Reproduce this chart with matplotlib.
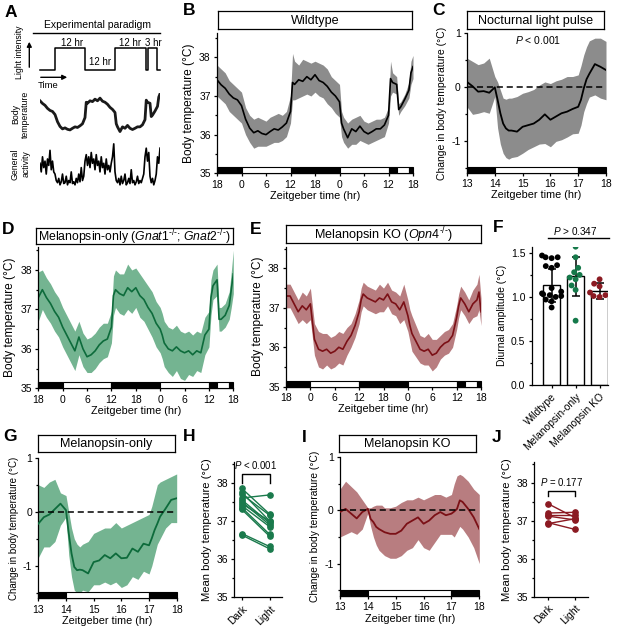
import numpy as np
import pandas as pd
import matplotlib
matplotlib.use("Agg")
import matplotlib.pyplot as plt
import matplotlib.transforms as mtransforms
from matplotlib.patches import Rectangle
from matplotlib.ticker import MultipleLocator
import seaborn as sns

plt.rcParams['font.family'] = ['Liberation Sans', 'DejaVu Sans']
plt.rcParams['mathtext.fontset'] = 'custom'
plt.rcParams['mathtext.rm'] = 'Liberation Sans'
plt.rcParams['mathtext.it'] = 'Liberation Sans:italic'
plt.rcParams['axes.unicode_minus'] = False
plt.rcParams['axes.linewidth'] = 0.9
for k in ['xtick.major.width', 'ytick.major.width', 'ytick.minor.width']:
    plt.rcParams[k] = 0.9
plt.rcParams['xtick.major.size'] = 2.5
plt.rcParams['ytick.major.size'] = 2.5
plt.rcParams['ytick.minor.size'] = 1.6
plt.rcParams['xtick.major.pad'] = 2
plt.rcParams['ytick.major.pad'] = 2
plt.rcParams['xtick.labelsize'] = 7.5
plt.rcParams['ytick.labelsize'] = 7.5

# ---- data: 48 h recordings (hours relative to ZT0 of day 1) ----
t_long = [-6, -5, -4, -3, -2, -1, 0, 1, 2, 3, 4, 5, 6, 7, 8, 9, 10, 11, 12, 12.5,
          13, 14, 15, 16, 17, 18, 19, 20, 21, 22, 23, 24, 24.5,
          25, 26, 27, 28, 29, 30, 31, 32, 33, 34, 35, 36, 36.5, 37, 38, 38.5, 39, 40, 41, 41.5, 42]
long_ticks = [-6, 0, 6, 12, 18, 24, 30, 36, 42]
long_labels = ['18', '0', '6', '12', '18', '0', '6', '12', '18']
ld_long = [(-6, 0, 1), (0, 12, 0), (12, 24, 1), (24, 36, 0), (36, 38, 1), (38, 41, 0), (41, 42, 1)]

# wildtype
b_mean = [37.42, 37.29, 37.2, 37.05, 36.95, 36.9, 36.75, 36.4, 36.17, 36.05, 36.1, 36.03, 36.0, 36.08, 36.15, 36.12, 36.2, 36.3, 36.6,
          37.35,
          37.3, 37.42, 37.38, 37.5, 37.42, 37.55, 37.4, 37.35, 37.25, 37.1, 37.0, 36.85,
          36.3,
          36.15, 35.92, 36.15, 36.08, 36.22, 36.08, 36.02, 36.08, 36.15, 36.15, 36.25, 36.5,
          37.45, 37.35, 37.3, 36.65, 36.72, 36.92, 37.15, 37.6, 37.76]
b_hi = [37.8, 37.7, 37.6, 37.4, 37.3, 37.2, 37.1, 36.7, 36.5, 36.4, 36.45, 36.4, 36.35, 36.45, 36.5, 36.55, 36.5, 36.6, 37.0,
        38.1,
        37.9, 37.8, 37.95, 37.9, 37.85, 37.9, 37.85, 37.8, 37.7, 37.5, 37.4, 37.3,
        36.6,
        36.45, 36.3, 36.4, 36.45, 36.5, 36.35, 36.3, 36.35, 36.4, 36.4, 36.45, 36.7,
        37.9, 37.6, 37.5, 36.8, 36.85, 37.05, 37.35, 37.9, 38.05]
b_lo = [37.0, 36.9, 36.8, 36.6, 36.5, 36.4, 36.3, 36.0, 35.8, 35.65, 35.7, 35.7, 35.7, 35.75, 35.8, 35.8, 35.85, 35.95, 36.3,
        36.9,
        36.9, 36.95, 37.0, 37.05, 37.0, 37.1, 37.0, 36.95, 36.8, 36.7, 36.55, 36.45,
        35.95,
        35.8, 35.65, 35.75, 35.75, 35.85, 35.8, 35.75, 35.8, 35.85, 35.9, 35.95, 36.3,
        37.0, 37.1, 37.05, 36.5, 36.6, 36.75, 36.95, 37.3, 37.45]

# melanopsin-only
d_mean = [37.3, 37.5, 37.3, 37.15, 36.95, 36.8, 36.55, 36.35, 36.15, 35.95, 36.3, 36.0, 35.8, 35.85, 35.95, 36.1, 36.2, 36.25, 36.55,
          37.35,
          37.5, 37.4, 37.35, 37.55, 37.45, 37.55, 37.35, 37.25, 37.05, 36.9, 36.65, 36.5,
          36.35,
          36.15, 36.0, 35.95, 36.05, 35.95, 35.9, 35.95, 35.85, 35.95, 35.9, 36.35, 36.5,
          37.3, 37.6, 37.75, 36.75, 36.75, 36.85, 37.1, 37.5, 37.9]
d_hi = [37.95, 38.0, 37.8, 37.65, 37.45, 37.3, 37.05, 36.85, 36.65, 36.45, 36.7, 36.4, 36.25, 36.3, 36.4, 36.55, 36.65, 36.65, 36.95,
        37.85,
        38.0, 37.9, 37.9, 38.15, 38.0, 38.05, 37.9, 37.75, 37.6, 37.45, 37.2, 37.05,
        36.9,
        36.7, 36.55, 36.5, 36.6, 36.45, 36.4, 36.45, 36.35, 36.45, 36.4, 36.8, 36.95,
        37.75, 38.0, 38.15, 37.05, 37.05, 37.15, 37.45, 37.95, 38.5]
d_lo = [36.7, 37.0, 36.8, 36.65, 36.45, 36.3, 36.05, 35.85, 35.65, 35.45, 35.85, 35.55, 35.4, 35.4, 35.5, 35.65, 35.75, 35.8, 36.15,
        36.85,
        37.05, 36.9, 36.85, 37.0, 36.9, 37.05, 36.8, 36.7, 36.5, 36.3, 36.05, 35.9,
        35.75,
        35.55, 35.4, 35.3, 35.45, 35.25, 35.2, 35.35, 35.3, 35.45, 35.4, 35.85, 36.05,
        36.85, 37.25, 37.35, 36.45, 36.45, 36.55, 36.75, 37.05, 37.4]

# melanopsin KO
e_mean = [37.3, 37.3, 37.1, 36.9, 37.05, 36.95, 37.1, 36.2, 35.95, 35.9, 35.95, 35.85, 35.9, 36.0, 35.95, 36.15, 36.3, 36.55, 36.9,
          37.2,
          37.35, 37.25, 37.2, 37.15, 37.25, 37.2, 37.35, 37.15, 37.1, 36.95, 37.15, 36.8,
          36.55,
          36.35, 36.15, 35.95, 35.9, 35.95, 35.8, 35.85, 36.0, 36.1, 36.15, 36.3, 36.75,
          37.05, 37.25, 37.1, 37.0, 36.9, 37.1, 37.2, 37.4, 36.9]
e_sem = [0.3, 0.3, 0.3, 0.3, 0.35, 0.35, 0.4, 0.4, 0.45, 0.45, 0.4, 0.4, 0.4, 0.4, 0.4, 0.35, 0.3, 0.3, 0.3,
         0.3,
         0.3, 0.3, 0.3, 0.3, 0.35, 0.3, 0.3, 0.3, 0.3, 0.35, 0.45, 0.4,
         0.4,
         0.45, 0.4, 0.35, 0.35, 0.4, 0.4, 0.35, 0.3, 0.3, 0.3, 0.3, 0.3,
         0.3, 0.3, 0.3, 0.3, 0.3, 0.35, 0.4, 0.45, 0.35]

# ---- data: nocturnal light pulse (ZT13-18) ----
t_short = [13.0, 13.2, 13.4, 13.6, 13.8, 14.0, 14.1, 14.2, 14.3, 14.4, 14.5, 14.6, 14.8, 15.0, 15.2, 15.4,
           15.6, 15.8, 16.0, 16.2, 16.4, 16.6, 16.8, 17.0, 17.1, 17.2, 17.3, 17.4, 17.6, 17.8, 18.0]
ld_short = [(13, 14, 1), (14, 17, 0), (17, 18, 1)]

c_mean = [0.1, 0.02, -0.08, -0.07, -0.1, 0.0, -0.23, -0.48, -0.67, -0.76, -0.8, -0.8, -0.82, -0.73, -0.7, -0.67,
          -0.6, -0.5, -0.6, -0.54, -0.48, -0.45, -0.4, -0.36, -0.23, -0.02, 0.15, 0.25, 0.43, 0.38, 0.32]
c_hi = [0.54, 0.48, 0.42, 0.45, 0.54, 0.2, 0.1, -0.05, -0.2, -0.22, -0.2, -0.2, -0.17, -0.11, -0.08, -0.04,
        0.04, 0.1, 0.07, 0.12, 0.15, 0.2, 0.2, 0.23, 0.4, 0.6, 0.75, 0.86, 0.91, 0.91, 0.85]
c_lo = [-0.36, -0.5, -0.48, -0.45, -0.48, -0.17, -0.75, -1.05, -1.22, -1.3, -1.33, -1.3, -1.28, -1.22, -1.15, -1.1,
        -1.05, -1.04, -1.1, -1.0, -0.97, -0.92, -0.86, -0.85, -0.7, -0.45, -0.3, -0.18, -0.14, -0.2, -0.23]

g_mean = [-0.22, -0.1, -0.05, 0.05, 0.15, 0.03, -0.4, -0.77, -1.02, -1.08, -1.07, -1.08, -1.14, -0.93, -0.9, -0.8,
          -0.86, -0.77, -0.86, -0.85, -0.68, -0.74, -0.59, -0.62, -0.49, -0.34, -0.22, -0.09, 0.06, 0.22, 0.25]
g_hi = [0.5, 0.45, 0.55, 0.6, 0.35, 0.3, 0.0, -0.3, -0.5, -0.6, -0.65, -0.6, -0.55, -0.4, -0.35, -0.3,
        -0.3, -0.2, -0.3, -0.25, -0.2, -0.15, -0.1, -0.05, 0.1, 0.3, 0.5, 0.55, 0.6, 0.65, 0.7]
g_lo = [-0.85, -0.65, -0.65, -0.55, -0.25, -0.1, -0.8, -1.2, -1.45, -1.5, -1.5, -1.45, -1.48, -1.35, -1.35, -1.3,
        -1.35, -1.3, -1.4, -1.35, -1.2, -1.25, -1.1, -1.15, -1.0, -0.8, -0.6, -0.5, -0.3, -0.2, -0.2]

i_mean = [-0.03, 0.03, -0.06, -0.15, -0.03, 0.03, -0.16, -0.22, -0.31, -0.35, -0.38, -0.41, -0.44, -0.44, -0.38, -0.25,
          -0.19, -0.13, -0.25, -0.19, -0.09, -0.03, -0.09, -0.06, -0.02, 0.03, 0.19, 0.16, 0.03, -0.13, -0.35]
i_hi = [0.4, 0.55, 0.45, 0.35, 0.2, 0.05, 0.05, 0.08, 0.1, 0.1, 0.1, 0.05, 0.05, 0.08, 0.15, 0.2,
        0.2, 0.25, 0.2, 0.25, 0.3, 0.3, 0.25, 0.3, 0.5, 0.65, 0.68, 0.65, 0.55, 0.4, 0.3]
i_lo = [-0.5, -0.45, -0.4, -0.45, -0.35, -0.05, -0.3, -0.5, -0.65, -0.75, -0.8, -0.85, -0.9, -0.9, -0.85, -0.75,
        -0.7, -0.55, -0.7, -0.75, -0.6, -0.45, -0.45, -0.45, -0.5, -0.4, -0.3, -0.35, -0.5, -0.7, -1.0]

# ---- data: diurnal amplitude ----
f_groups = ['Wildtype', 'Melanopsin-only', 'Melanopsin KO']
f_means = [1.13, 1.235, 1.065]
f_sds = [0.19, 0.22, 0.09]
f_wt = [1.47, 1.45, 1.45, 1.44, 1.36, 1.35, 1.33, 1.1, 1.06, 1.04, 1.03, 1.02, 1.01, 1.0, 0.97, 0.95, 0.88]
f_mel = [1.57, 1.45, 1.33, 1.28, 1.25, 1.22, 1.2, 1.13, 1.08, 0.73]
f_ko = [1.2, 1.15, 1.12, 1.05, 1.02, 1.01, 1.0]

# ---- data: mean temperature dark vs light ----
h_dark = [37.85, 37.75, 37.7, 37.6, 37.55, 37.5, 37.45, 37.4, 37.35, 37.3, 36.67, 36.63]
h_light = [37.18, 37.0, 37.15, 37.68, 36.95, 36.9, 37.0, 36.85, 36.65, 36.6, 36.33, 36.27]
j_dark = [37.45, 37.2, 37.15, 37.12, 36.95, 36.92]
j_light = [37.08, 37.22, 37.15, 37.02, 36.77, 37.05]
dl_labels = ['Dark', 'Light']

# ---- schematic (panel A) ----
light_t = [-6, 0, 0, 12, 12, 24, 24, 36.3, 36.3, 37.1, 37.1, 40.7, 40.7, 42]
light_v = [0, 0, 1, 1, 0, 0, 1, 1, 0, 0, 1, 1, 0, 0]
act = [0.55, 0.35, 0.7, 0.45, 0.6, 0.3, 0.65, 0.5, 0.85, 0.4, 0.6, 0.35,
       0.3, 0.15, 0.1, 0.2, 0.05, 0.12, 0.3, 0.08, 0.1, 0.25, 0.05, 0.15,
       0.1, 0.35, 0.08, 0.12, 0.05, 0.2, 0.1, 0.3, 0.12, 0.45, 0.15, 0.25,
       0.6, 0.75, 0.5, 0.7, 0.45, 0.8, 0.55, 0.65, 0.4, 0.75, 0.5, 0.6,
       0.35, 0.7, 0.45, 0.55, 0.3, 0.65, 0.4, 0.5, 0.35, 0.55, 0.7, 1.0,
       0.35, 0.15, 0.1, 0.2, 0.05, 0.25, 0.08, 0.15, 0.3, 0.05, 0.1, 0.2,
       0.08, 0.4, 0.1, 0.15, 0.05, 0.12, 0.25, 0.08, 0.15, 0.1, 0.2, 0.3,
       0.7, 0.9, 0.6, 0.8,
       0.25, 0.1, 0.2, 0.05, 0.15, 0.3,
       0.7, 0.55, 0.9]
act_t = np.arange(-6, 42.5, 0.5)

GREEN, GREEN_BAND = '#0d6b3b', '#74b491'
RED, RED_BAND = '#7b1016', '#b87d80'
GRAY_BAND = '#8c8c8c'

W, H = 617, 633
fig = plt.figure(figsize=(W / 100, H / 100), dpi=100)


def px_axes(l, t, r, b):
    return fig.add_axes([l / W, 1 - b / H, (r - l) / W, (b - t) / H])


def clean(ax):
    ax.spines['top'].set_visible(False)
    ax.spines['right'].set_visible(False)


def ld_bar(ax, periods, frac):
    trans = mtransforms.blended_transform_factory(ax.transData, ax.transAxes)
    for s, e, dark in periods:
        ax.add_patch(Rectangle((s, 0), e - s, frac, transform=trans,
                               facecolor='black' if dark else 'white',
                               edgecolor='black', lw=0.8, zorder=4, clip_on=False))


def title_box(l, t, r, b, text, size=9.1):
    ax = px_axes(l, t, r, b)
    ax.set_xticks([])
    ax.set_yticks([])
    ax.text(0.5, 0.45, text, ha='center', va='center', fontsize=size, transform=ax.transAxes)


def long_panel(ax, mean, lo, hi, line_c, band_c, ytop):
    ax.fill_between(t_long, lo, hi, color=band_c, lw=0)
    ax.plot(t_long, mean, color=line_c, lw=1.2)
    ax.set_xlim(-6, 42)
    ax.set_ylim(35, ytop)
    ax.set_xticks(long_ticks)
    ax.set_xticklabels(long_labels)
    ax.set_yticks([35, 36, 37, 38])
    ax.yaxis.set_minor_locator(MultipleLocator(0.5))
    ld_bar(ax, ld_long, 0.043)
    clean(ax)
    ax.set_xlabel('Zeitgeber time (hr)', fontsize=7.8, labelpad=1)
    ax.set_ylabel('Body temperature (°C)', fontsize=8.6, labelpad=3)


def short_panel(ax, mean, lo, hi, line_c, band_c, ybot, lab_size):
    ax.fill_between(t_short, lo, hi, color=band_c, lw=0)
    ax.plot(t_short, mean, color=line_c, lw=1.3, zorder=3)
    ax.axhline(0, color='black', lw=1.1, ls=(0, (4, 2.5)), zorder=3)
    ax.set_xlim(13, 18)
    ax.set_ylim(ybot, 1)
    ax.set_xticks([13, 14, 15, 16, 17, 18])
    ax.set_yticks([-1, 0, 1])
    ax.yaxis.set_minor_locator(MultipleLocator(0.5))
    ld_bar(ax, ld_short, 0.043)
    clean(ax)
    ax.set_xlabel('Zeitgeber time (hr)', fontsize=7.8, labelpad=1)
    ax.set_ylabel('Change in body temperature (°C)', fontsize=lab_size, labelpad=3)


def pair_panel(ax, dark, light, color, ptxt, ptxt_y, br_top, br_end):
    for a, b in zip(dark, light):
        ax.plot([0, 1], [a, b], color=color, lw=1.0, marker='o', ms=3.8, mec=color, mfc=color)
    ax.set_ylim(35, 38.55)
    ax.set_yticks([35, 36, 37, 38])
    ax.yaxis.set_minor_locator(MultipleLocator(0.5))
    ax.set_xticks([0, 1])
    ax.set_xticklabels(dl_labels, rotation=45, ha='right', rotation_mode='anchor')
    ax.plot([0, 0, 1, 1], [br_end, br_top, br_top, br_end], color='black', lw=1.0, clip_on=False)
    ax.text(0.5, ptxt_y, ptxt, ha='center', va='bottom', fontsize=6.9, clip_on=False)
    clean(ax)
    ax.set_ylabel('Mean body temperature (°C)', fontsize=8.1, labelpad=3)


# ---- panel A ----
ax_l = px_axes(40, 48, 160, 72)
ax_l.plot(light_t, light_v, color='black', lw=1.1, clip_on=False)
ax_l.set_xlim(-6, 42)
ax_l.set_ylim(-0.1, 1.0)
ax_l.axis('off')

ax_t = px_axes(40, 93, 160, 133)
ax_t.plot(t_long, b_mean, color='#1a1a1a', lw=2.0)
ax_t.set_xlim(-6, 42)
ax_t.set_ylim(35.85, 37.8)
ax_t.axis('off')

ax_act = px_axes(40, 143, 160, 187)
ax_act.plot(act_t, act, color='black', lw=1.2)
ax_act.set_xlim(-6, 42)
ax_act.set_ylim(0, 1.02)
ax_act.axis('off')

# ---- panel B ----
axB = px_axes(217, 33, 413, 173.3)
long_panel(axB, b_mean, b_lo, b_hi, 'black', GRAY_BAND, 38.63)
title_box(218, 11, 412, 29, 'Wildtype')

# ---- panel C ----
axC = px_axes(467, 33.3, 606, 172.7)
short_panel(axC, c_mean, c_lo, c_hi, 'black', GRAY_BAND, -1.58, 7.5)
axC.text(15.55, 0.87, r'$\it{P}$ < 0.001', ha='center', va='center', fontsize=7.5)
title_box(467, 11, 604, 29, 'Nocturnal light pulse')

# ---- panel D ----
axD = px_axes(38.3, 246.7, 233.3, 388.3)
long_panel(axD, d_mean, d_lo, d_hi, GREEN, GREEN_BAND, 38.59)
title_box(36, 228, 233, 244,
          r'Melanopsin-only ($\it{Gnat1}^{\text{-/-}}$; $\it{Gnat2}^{\text{-/-}}$)', size=8.8)

# ---- panel E ----
axE = px_axes(286, 246.7, 481, 386.7)
e_lo = [m - s for m, s in zip(e_mean, e_sem)]
e_hi = [m + s for m, s in zip(e_mean, e_sem)]
long_panel(axE, e_mean, e_lo, e_hi, RED, RED_BAND, 38.55)
title_box(286, 225, 481, 243, r'Melanopsin KO ($\it{Opn4}^{\text{-/-}}$)')

# ---- panel F ----
axF = px_axes(531.7, 246.7, 608, 385)
f_colors = {'Wildtype': 'black', 'Melanopsin-only': '#15794a', 'Melanopsin KO': '#8b1a22'}
f_df = pd.DataFrame({
    'group': ['Wildtype'] * len(f_wt) + ['Melanopsin-only'] * len(f_mel) + ['Melanopsin KO'] * len(f_ko),
    'amp': f_wt + f_mel + f_ko,
})
axF.bar(range(3), f_means, width=0.69, color='white', edgecolor='black', lw=1.0, zorder=1)
axF.errorbar(range(3), f_means, yerr=f_sds, fmt='none', ecolor='black', elinewidth=1.1,
             capsize=3, capthick=1.1, zorder=2)
sns.swarmplot(data=f_df, x='group', y='amp', hue='group', order=f_groups, palette=f_colors,
              size=4.2, linewidth=0, legend=False, ax=axF, zorder=3)
axF.set_xlim(-0.83, 2.35)
axF.set_ylim(0, 1.57)
axF.set_yticks([0, 0.5, 1.0, 1.5])
axF.set_yticklabels(['0.0', '0.5', '1.0', '1.5'])
axF.yaxis.set_minor_locator(MultipleLocator(0.25))
axF.set_xticks(range(3))
axF.set_xticklabels(f_groups, rotation=45, ha='right', rotation_mode='anchor')
axF.set_xlabel('')
axF.set_ylabel('Diurnal amplitude (°C)', fontsize=7.4, labelpad=3)
axF.plot([-0.15, 2.4], [1.667, 1.667], color='black', lw=1.0, clip_on=False)
axF.text(1.0, 1.745, r'$\it{P}$ > 0.347', ha='center', va='center', fontsize=7.2)
clean(axF)

# ---- panel G ----
axG = px_axes(38.3, 457.7, 176.7, 598.3)
short_panel(axG, g_mean, g_lo, g_hi, GREEN, GREEN_BAND, -1.6, 7.0)
title_box(38, 435, 175, 452, 'Melanopsin-only')

# ---- panel H ----
axH = px_axes(234.3, 461.7, 281.7, 597.3)
axH.set_xlim(-0.27, 1.44)
pair_panel(axH, h_dark, h_light, '#1a7a4c', r'$\it{P}$ < 0.001', 38.3, 38.23, 38.0)

# ---- panel I ----
axI = px_axes(340, 457.3, 479.3, 596)
short_panel(axI, i_mean, i_lo, i_hi, RED, RED_BAND, -1.61, 7.4)
title_box(339, 435, 476, 452, 'Melanopsin KO')

# ---- panel J ----
axJ = px_axes(534.3, 461.7, 588.3, 596.7)
axJ.set_xlim(-0.49, 1.49)
pair_panel(axJ, j_dark, j_light, '#8b1a22', r'$\it{P}$ = 0.177', 37.85, 37.78, 37.65)

# ---- overlay: panel letters and schematic annotations ----
ov = fig.add_axes([0, 0, 1, 1])
ov.set_xlim(0, W)
ov.set_ylim(H, 0)
ov.axis('off')
ov.patch.set_alpha(0)

for letter, x, y in [('A', 5, 5), ('B', 183, 3), ('C', 432, 3), ('D', 2, 222), ('E', 250, 222),
                     ('F', 493, 220), ('G', 3, 429), ('H', 183, 429), ('I', 302, 430), ('J', 492, 430)]:
    ov.text(x, y, letter, fontsize=12.5, fontweight='bold', ha='left', va='top')

ov.text(97, 25, 'Experimental paradigm', fontsize=7.5, ha='center', va='center')
ov.plot([33, 160], [32.7, 32.7], color='black', lw=1.0)
for txt, x, y in [('12 hr', 72, 43), ('12 hr', 100, 62), ('12 hr', 130, 43), ('3 hr', 153, 43)]:
    ov.text(x, y, txt, fontsize=7, ha='center', va='center')
ov.annotate('', xy=(29.3, 39), xytext=(29.3, 70),
            arrowprops=dict(arrowstyle='-|>', color='black', lw=1.0, mutation_scale=7))
ov.annotate('', xy=(70, 77.3), xytext=(38, 77.3),
            arrowprops=dict(arrowstyle='-|>', color='black', lw=1.0, mutation_scale=7))
ov.text(38, 86, 'Time', fontsize=6.8, ha='left', va='center')
ov.text(20, 52, 'Light intensity', fontsize=6.3, rotation=90, ha='center', va='center')
ov.text(20.5, 114, 'Body\ntemperature', fontsize=6.3, rotation=90, ha='center', va='center', linespacing=1.2)
ov.text(20.5, 164, 'General\nactivity', fontsize=6.3, rotation=90, ha='center', va='center', linespacing=1.2)

fig.savefig('out.png', dpi=100)
